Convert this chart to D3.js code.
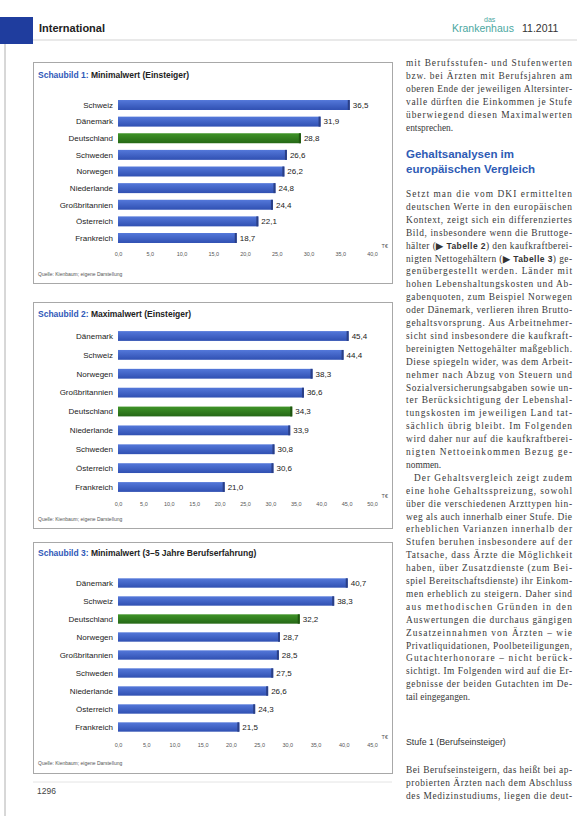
<!DOCTYPE html>
<html>
<head>
<meta charset="utf-8">
<script src="https://cdn.jsdelivr.net/npm/d3@7"></script>
<style>
  html, body { margin: 0; padding: 0; background: #fff; }
  svg { display: block; }
</style>
</head>
<body>
<div id="page"></div>
<script>
(function() {
    'use strict';

    // --- data -------------------------------------------------------------
    var highlight = 'Deutschland';

    var chart1Countries = ['Schweiz', 'Dänemark', 'Deutschland', 'Schweden', 'Norwegen',
                           'Niederlande', 'Großbritannien', 'Österreich', 'Frankreich'];
    var chart1Values = [36.5, 31.9, 28.8, 26.6, 26.2, 24.8, 24.4, 22.1, 18.7];
    var chart1Ticks = [0, 5, 10, 15, 20, 25, 30, 35, 40];

    var chart2Countries = ['Dänemark', 'Schweiz', 'Norwegen', 'Großbritannien', 'Deutschland',
                           'Niederlande', 'Schweden', 'Österreich', 'Frankreich'];
    var chart2Values = [45.4, 44.4, 38.3, 36.6, 34.3, 33.9, 30.8, 30.6, 21.0];
    var chart2Ticks = [0, 5, 10, 15, 20, 25, 30, 35, 40, 45, 50];

    var chart3Countries = ['Dänemark', 'Schweiz', 'Deutschland', 'Norwegen', 'Großbritannien',
                           'Schweden', 'Niederlande', 'Österreich', 'Frankreich'];
    var chart3Values = [40.7, 38.3, 32.2, 28.7, 28.5, 27.5, 26.6, 24.3, 21.5];
    var chart3Ticks = [0, 5, 10, 15, 20, 25, 30, 35, 40, 45];

    var chartTitles = [
        ['Schaubild 1:', ' Minimalwert (Einsteiger)'],
        ['Schaubild 2:', ' Maximalwert (Einsteiger)'],
        ['Schaubild 3:', ' Minimalwert (3–5 Jahre Berufserfahrung)']
    ];
    var sourceNote = 'Quelle: Kienbaum; eigene Darstellung';
    var unitLabel = 'T€';

    var columnText = [
        'mit Berufsstufen- und Stufenwerten',
        'bzw. bei Ärzten mit Berufsjahren am',
        'oberen Ende der jeweiligen Altersinter-',
        'valle dürften die Einkommen je Stufe',
        'überwiegend diesen Maximalwerten',
        'entsprechen.|'
    ];
    var columnHeading = ['Gehaltsanalysen im', 'europäischen Vergleich'];
    var columnText2 = [
        'Setzt man die vom DKI ermittelten',
        'deutschen Werte in den europäischen',
        'Kontext, zeigt sich ein differenziertes',
        'Bild, insbesondere wenn die Bruttoge-',
        'hälter (▶ Tabelle 2) den kaufkraftberei-',
        'nigten Nettogehältern (▶ Tabelle 3) ge-',
        'genübergestellt werden. Länder mit',
        'hohen Lebenshaltungskosten und Ab-',
        'gabenquoten, zum Beispiel Norwegen',
        'oder Dänemark, verlieren ihren Brutto-',
        'gehaltsvorsprung. Aus Arbeitnehmer-',
        'sicht sind insbesondere die kaufkraft-',
        'bereinigten Nettogehälter maßgeblich.',
        'Diese spiegeln wider, was dem Arbeit-',
        'nehmer nach Abzug von Steuern und',
        'Sozialversicherungsabgaben sowie un-',
        'ter Berücksichtigung der Lebenshal-',
        'tungskosten im jeweiligen Land tat-',
        'sächlich übrig bleibt. Im Folgenden',
        'wird daher nur auf die kaufkraftberei-',
        'nigten Nettoeinkommen Bezug ge-',
        'nommen.|',
        '   Der Gehaltsvergleich zeigt zudem',
        'eine hohe Gehaltsspreizung, sowohl',
        'über die verschiedenen Arzttypen hin-',
        'weg als auch innerhalb einer Stufe. Die',
        'erheblichen Varianzen innerhalb der',
        'Stufen beruhen insbesondere auf der',
        'Tatsache, dass Ärzte die Möglichkeit',
        'haben, über Zusatzdienste (zum Bei-',
        'spiel Bereitschaftsdienste) ihr Einkom-',
        'men erheblich zu steigern. Daher sind',
        'aus methodischen Gründen in den',
        'Auswertungen die durchaus gängigen',
        'Zusatzeinnahmen von Ärzten – wie',
        'Privatliquidationen, Poolbeteiligungen,',
        'Gutachterhonorare – nicht berück-',
        'sichtigt. Im Folgenden wird auf die Er-',
        'gebnisse der beiden Gutachten im De-',
        'tail eingegangen.|'
    ];
    var columnSubhead = 'Stufe 1 (Berufseinsteiger)';
    var columnText3 = [
        'Bei Berufseinsteigern, das heißt bei ap-',
        'probierten Ärzten nach dem Abschluss',
        'des Medizinstudiums, liegen die deut-'
    ];

    // --- page -------------------------------------------------------------
    var W = 577, H = 816;
    var sans = '"Liberation Sans", Arial, sans-serif';
    var serif = '"Liberation Serif", "DejaVu Serif", serif';

    var de = d3.formatLocale({ decimal: ',', thousands: '.', grouping: [3], currency: ['', '€'] });
    var fmt = de.format('.1f');

    var svg = d3.select('#page')
      .append('svg')
        .attr('width', W)
        .attr('height', H)
        .attr('viewBox', '0 0 ' + W + ' ' + H);

    var defs = svg.append('defs');
    [['gradBlue', '#5478da', '#3050b2'], ['gradGreen', '#3f9428', '#256816']].forEach(function(g) {
        var lg = defs.append('linearGradient')
          .attr('id', g[0])
          .attr('x1', 0).attr('y1', 0).attr('x2', 0).attr('y2', 1);
        lg.append('stop').attr('offset', '0%').attr('stop-color', g[1]);
        lg.append('stop').attr('offset', '100%').attr('stop-color', g[2]);
    });

    svg.append('rect')
      .attr('width', W).attr('height', H)
      .attr('fill', '#fff');

    // header
    svg.append('rect')
      .attr('x', 0).attr('y', 17).attr('width', 33).attr('height', 27)
      .attr('fill', '#1f3d9e');
    svg.append('line')
      .attr('x1', 5).attr('x2', 5).attr('y1', 44).attr('y2', H)
      .attr('stroke', '#b0b0b0').attr('stroke-width', 1);
    svg.append('line')
      .attr('x1', 33).attr('x2', W).attr('y1', 40).attr('y2', 40)
      .attr('stroke', '#c8c8c8').attr('stroke-width', 0.8);
    svg.append('text')
      .attr('x', 39).attr('y', 32)
      .attr('font-family', sans).attr('font-size', 11).attr('font-weight', 'bold')
      .attr('fill', '#222')
      .text('International');
    svg.append('text')
      .attr('x', 484).attr('y', 22)
      .attr('font-family', sans).attr('font-size', 7)
      .attr('fill', '#4ba7a1')
      .text('das');
    svg.append('text')
      .attr('x', 452).attr('y', 32)
      .attr('font-family', sans).attr('font-size', 10.5)
      .attr('fill', '#4ba7a1')
      .text('Krankenhaus');
    svg.append('text')
      .attr('x', 522).attr('y', 32)
      .attr('font-family', sans).attr('font-size', 10.5)
      .attr('fill', '#333')
      .text('11.2011');

    // footer
    svg.append('line')
      .attr('x1', 33).attr('x2', 392).attr('y1', 782).attr('y2', 782)
      .attr('stroke', '#ddd').attr('stroke-width', 0.8);
    svg.append('text')
      .attr('x', 37).attr('y', 794)
      .attr('font-family', sans).attr('font-size', 8.5)
      .attr('fill', '#444')
      .text('1296');

    // --- charts -----------------------------------------------------------
    function drawChart(cfg) {
        var g = svg.append('g').attr('class', 'chart');

        g.append('rect')
          .attr('x', cfg.box[0] + 0.5).attr('y', cfg.box[1] + 0.5)
          .attr('width', cfg.box[2]).attr('height', cfg.box[3])
          .attr('fill', '#fff')
          .attr('stroke', '#a8a8a8').attr('stroke-width', 1);

        var title = g.append('text')
          .attr('x', cfg.box[0] + 5).attr('y', cfg.titleY)
          .attr('font-family', sans).attr('font-size', 8.5).attr('font-weight', 600);
        title.append('tspan').attr('fill', '#2f58b8').text(cfg.title[0]);
        title.append('tspan').attr('fill', '#222').text(cfg.title[1]);

        var step = (cfg.lastY - cfg.firstY) / (cfg.countries.length - 1);
        var y = d3.scaleBand()
          .domain(cfg.countries)
          .range([cfg.firstY - step / 2, cfg.lastY + step / 2])
          .paddingInner(cfg.pad)
          .paddingOuter(cfg.pad / 2);

        var x = d3.scaleLinear()
          .domain([0, d3.max(cfg.ticks)])
          .range([118, 372]);

        var rows = cfg.countries.map(function(c, i) { return { name: c, value: cfg.values[i] }; });

        var bar = g.selectAll('.bar')
          .data(rows)
          .enter().append('g')
            .attr('class', 'bar');

        bar.append('rect')
          .attr('x', x(0))
          .attr('y', function(d) { return y(d.name); })
          .attr('width', function(d) { return x(d.value) - x(0); })
          .attr('height', y.bandwidth())
          .attr('fill', function(d) { return d.name === highlight ? 'url(#gradGreen)' : 'url(#gradBlue)'; });

        // darker end cap
        bar.append('rect')
          .attr('x', function(d) { return x(d.value) - 2; })
          .attr('y', function(d) { return y(d.name); })
          .attr('width', 2)
          .attr('height', y.bandwidth())
          .attr('fill', function(d) { return d.name === highlight ? '#1f5510' : '#2a3f86'; });

        bar.append('text')
          .attr('x', 113)
          .attr('y', function(d) { return y(d.name) + y.bandwidth() / 2; })
          .attr('dy', '0.35em')
          .attr('text-anchor', 'end')
          .attr('font-family', sans).attr('font-size', 8)
          .attr('fill', '#222')
          .text(function(d) { return d.name; });

        bar.append('text')
          .attr('x', function(d) { return x(d.value) + 3; })
          .attr('y', function(d) { return y(d.name) + y.bandwidth() / 2; })
          .attr('dy', '0.35em')
          .attr('font-family', sans).attr('font-size', 8)
          .attr('fill', '#222')
          .text(function(d) { return fmt(d.value); });

        var xAxis = d3.axisBottom(x)
          .tickValues(cfg.ticks)
          .tickSize(0)
          .tickPadding(0)
          .tickFormat(fmt);

        var ax = g.append('g')
          .attr('transform', 'translate(0,' + cfg.axisY + ')')
          .call(xAxis);
        ax.select('.domain').remove();
        ax.selectAll('text')
          .attr('font-family', sans).attr('font-size', 5.5)
          .attr('fill', '#555')
          .attr('dy', 0);

        g.append('text')
          .attr('x', 388).attr('y', cfg.axisY - 8)
          .attr('text-anchor', 'end')
          .attr('font-family', sans).attr('font-size', 5.5)
          .attr('fill', '#555')
          .text(unitLabel);

        g.append('text')
          .attr('x', cfg.box[0] + 5).attr('y', cfg.footY)
          .attr('font-family', sans).attr('font-size', 5)
          .attr('fill', '#555')
          .text(sourceNote);
    }

    drawChart({
        box: [33, 62, 359, 221], titleY: 78, firstY: 105, lastY: 238, pad: 0.4,
        axisY: 256, footY: 276,
        title: chartTitles[0], countries: chart1Countries, values: chart1Values, ticks: chart1Ticks
    });
    drawChart({
        box: [33, 302, 359, 226], titleY: 317, firstY: 336, lastY: 487, pad: 0.48,
        axisY: 506, footY: 521,
        title: chartTitles[1], countries: chart2Countries, values: chart2Values, ticks: chart2Ticks
    });
    drawChart({
        box: [33, 542, 359, 231], titleY: 556, firstY: 583, lastY: 727, pad: 0.48,
        axisY: 747, footY: 765,
        title: chartTitles[2], countries: chart3Countries, values: chart3Values, ticks: chart3Ticks
    });

    // --- text column ------------------------------------------------------
    var colX = 406, colW = 166, lineH = 12.9;

    function writeLines(lines, y0) {
        lines.forEach(function(line, i) {
            var last = /\|$/.test(line);
            var str = line.replace(/\|$/, '');
            var indent = /^ {3}/.test(str) ? 8 : 0;
            str = str.replace(/^ +/, '');
            var t = svg.append('text')
              .attr('x', colX + indent)
              .attr('y', y0 + i * lineH)
              .attr('font-family', serif)
              .attr('font-size', 9.4)
              .attr('fill', '#3a3a3a');
            if (!last) {
                t.attr('textLength', colW - indent).attr('lengthAdjust', 'spacing');
            }
            str.split(/(▶ Tabelle \d)/).forEach(function(part) {
                if (!part) { return; }
                var ts = t.append('tspan').text(part);
                if (/^▶/.test(part)) {
                    ts.attr('font-family', sans).attr('font-weight', 'bold').attr('font-size', 8.5).attr('fill', '#333');
                }
            });
        });
    }

    writeLines(columnText, 66);

    columnHeading.forEach(function(h, i) {
        svg.append('text')
          .attr('x', colX).attr('y', 158 + i * 14.5)
          .attr('font-family', sans).attr('font-size', 11.5).attr('font-weight', 'bold')
          .attr('fill', '#2e5bb5')
          .text(h);
    });

    writeLines(columnText2, 197);

    svg.append('text')
      .attr('x', colX).attr('y', 745)
      .attr('font-family', sans).attr('font-size', 8.8)
      .attr('fill', '#333')
      .text(columnSubhead);

    writeLines(columnText3, 773);

})();
</script>
</body>
</html>
